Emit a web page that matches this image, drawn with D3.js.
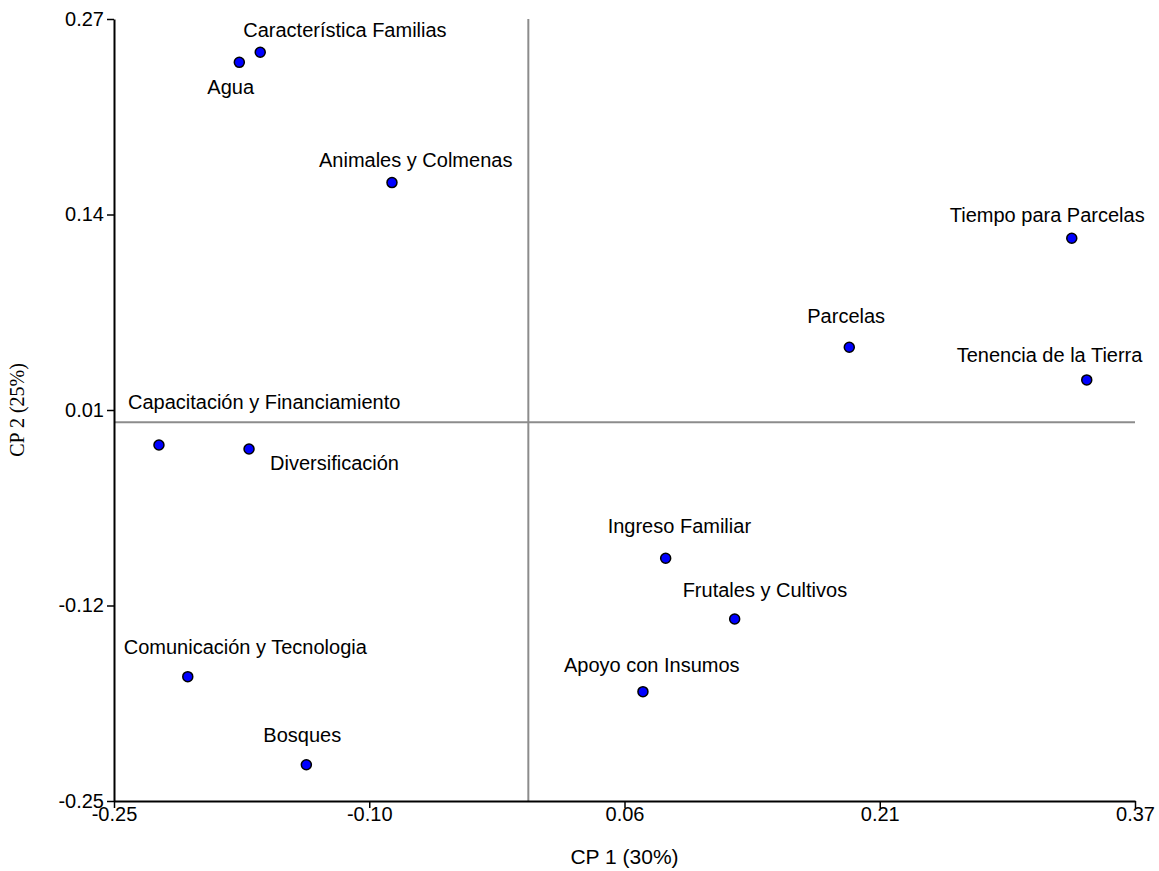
<!DOCTYPE html>
<html>
<head>
<meta charset="utf-8">
<script src="https://cdn.jsdelivr.net/npm/d3@7"></script>
<style>
  html, body { margin: 0; padding: 0; background: #fff; }
  svg { display: block; font-family: Arial, "Liberation Sans", sans-serif; }
</style>
</head>
<body>
<svg id="chart" width="1159" height="871"></svg>
<script>
// Variables of the PCA biplot (CP 1 vs CP 2)
const variables = [
  "Característica Familias", "Agua", "Animales y Colmenas",
  "Tiempo para Parcelas", "Parcelas", "Tenencia de la Tierra",
  "Capacitación y Financiamiento", "Diversificación",
  "Ingreso Familiar", "Frutales y Cultivos", "Apoyo con Insumos",
  "Comunicación y Tecnologia", "Bosques"
];
const cp1 = [-0.1628, -0.1755, -0.0828, 0.3300, 0.1949, 0.3391,
             -0.2243, -0.1696, 0.0834, 0.1253, 0.0696, -0.2068, -0.1348];
const cp2 = [0.2461, 0.2394, 0.1594, 0.1224, 0.0499, 0.0282,
             -0.0151, -0.0177, -0.0904, -0.1308, -0.1791, -0.1691, -0.2277];

// Axis extents and ticks (five evenly spaced ticks, labelled to two decimals)
const xDomain = [-0.2516, 0.3684];
const yDomain = [-0.2518, 0.2682];
const xTickLabels = ["-0.25", "-0.10", "0.06", "0.21", "0.37"];
const yTickLabels = ["-0.25", "-0.12", "0.01", "0.14", "0.27"];
const xTitle = "CP 1 (30%)";
const yTitle = "CP 2 (25%)";

// Label placement relative to each point (text start, baseline)
const labelOffsets = [
  [-17, -15], [-32, 32], [-73, -16],
  [-122, -16], [-42, -24], [-130, -18],
  [-31, -36], [21, 21],
  [-58, -25], [-52, -22], [-79, -20],
  [-64, -23], [-43, -23]
];

const svg = d3.select("#chart");
const plotLeft = 114, plotRight = 1135, plotTop = 19, plotBottom = 801;

const x = d3.scaleLinear().domain(xDomain).range([plotLeft, plotRight]);
const y = d3.scaleLinear().domain(yDomain).range([plotBottom, plotTop]);

const xTicks = d3.range(5).map(i => xDomain[0] + i * (xDomain[1] - xDomain[0]) / 4);
const yTicks = d3.range(5).map(i => yDomain[0] + i * (yDomain[1] - yDomain[0]) / 4);

// Reference lines through the origin
svg.append("line")
  .attr("x1", x(0)).attr("x2", x(0))
  .attr("y1", plotTop).attr("y2", plotBottom)
  .attr("stroke", "#8c8c8c").attr("stroke-width", 2);
svg.append("line")
  .attr("x1", plotLeft).attr("x2", plotRight)
  .attr("y1", y(0)).attr("y2", y(0))
  .attr("stroke", "#8c8c8c").attr("stroke-width", 2);

// Axes
const xAxis = svg.append("g")
  .attr("transform", `translate(0,${plotBottom})`)
  .call(d3.axisBottom(x).tickValues(xTicks)
    .tickFormat((d, i) => xTickLabels[i]).tickSize(7).tickSizeOuter(0));
const yAxis = svg.append("g")
  .attr("transform", `translate(${plotLeft},0)`)
  .call(d3.axisLeft(y).tickValues(yTicks)
    .tickFormat((d, i) => yTickLabels[i]).tickSize(7).tickSizeOuter(0));

[xAxis, yAxis].forEach(g => {
  g.select(".domain").attr("stroke", "#000").attr("stroke-width", 2);
  g.selectAll(".tick line").attr("stroke", "#000").attr("stroke-width", 1.5);
  g.selectAll(".tick text").attr("fill", "#000")
    .style("font-size", "20px").style("font-family", "Arial, 'Liberation Sans', sans-serif");
});
xAxis.selectAll(".tick text").attr("dy", "0.71em").attr("y", 6);
yAxis.selectAll(".tick text").attr("x", -10);

// Axis titles
svg.append("text")
  .attr("x", (plotLeft + plotRight) / 2).attr("y", 864)
  .attr("text-anchor", "middle")
  .style("font-size", "21px")
  .text(xTitle);
svg.append("text")
  .attr("transform", `translate(24,${(plotTop + plotBottom) / 2}) rotate(-90)`)
  .attr("text-anchor", "middle")
  .style("font-size", "20px")
  .style("font-family", "'Liberation Serif', 'Times New Roman', serif")
  .text(yTitle);

// Points and labels
const data = variables.map((name, i) => ({ name, cx: cp1[i], cy: cp2[i], off: labelOffsets[i] }));

svg.append("g").selectAll("circle")
  .data(data).join("circle")
  .attr("cx", d => x(d.cx)).attr("cy", d => y(d.cy))
  .attr("r", 5)
  .attr("fill", "#0000ff").attr("stroke", "#000").attr("stroke-width", 1.5);

svg.append("g").selectAll("text")
  .data(data).join("text")
  .attr("x", d => x(d.cx) + d.off[0])
  .attr("y", d => y(d.cy) + d.off[1])
  .style("font-size", "20px")
  .attr("fill", "#000")
  .text(d => d.name);
</script>
</body>
</html>
